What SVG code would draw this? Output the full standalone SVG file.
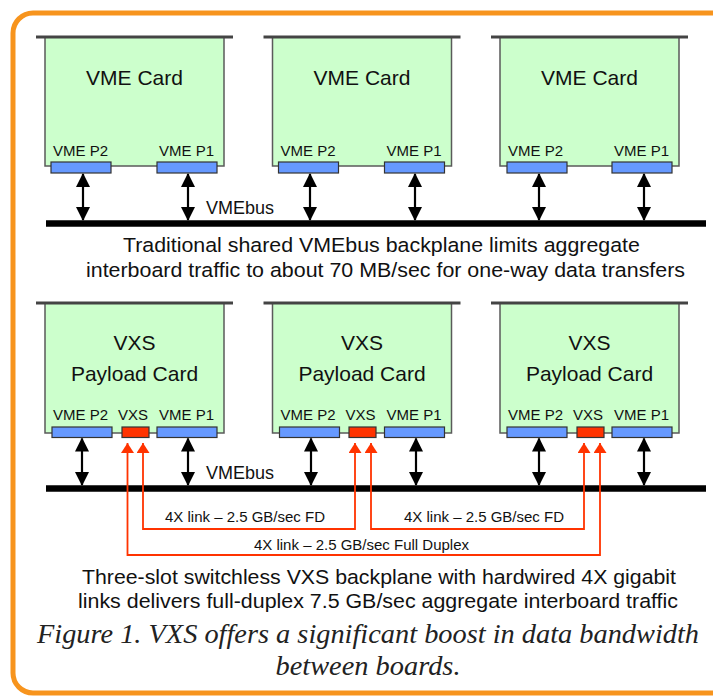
<svg xmlns="http://www.w3.org/2000/svg" width="713" height="696" viewBox="0 0 713 696">
<defs>
<style>
.card{fill:#CCFFCC;stroke:#5a5a5a;stroke-width:1.5}
.bar{stroke:#444;stroke-width:3}
.conn{fill:#6699FF;stroke:#333;stroke-width:1.2}
.vxs{fill:#FF3300;stroke:#333;stroke-width:1.2}
.t{font-family:"Liberation Sans",Arial,sans-serif;fill:#111}
.title{font-size:21px;text-anchor:middle}
.pl{font-size:15px}
.bl{font-size:18px}
.cap{font-size:20.5px;text-anchor:middle}
.lk{font-size:15px;text-anchor:middle}
.bus{stroke:#000;stroke-width:6.5}
.barr{stroke:#000;stroke-width:2.2;marker-start:url(#bh);marker-end:url(#bh)}
.redh{fill:none;stroke:#FF3300;stroke-width:1.8;marker-start:url(#rh);marker-end:url(#rh)}
.fig{font-family:"Liberation Serif","Times New Roman",serif;font-style:italic;font-size:27px;text-anchor:middle;fill:#222}
</style>
<marker id="bh" viewBox="0 0 14 14" refX="13" refY="7" markerWidth="14" markerHeight="14" markerUnits="userSpaceOnUse" orient="auto-start-reverse">
<path d="M0,0 L14,7 L0,14 Z" fill="#000"/>
</marker>
<marker id="rh" viewBox="0 0 10 13" refX="10" refY="6.5" markerWidth="10" markerHeight="13" markerUnits="userSpaceOnUse" orient="auto-start-reverse">
<path d="M0,0 L10,6.5 L0,13 Z" fill="#FF3300"/>
</marker>
</defs>
<rect x="13" y="13" width="730" height="680" rx="20" fill="#fff" stroke="#F7941D" stroke-width="5"/>

<g id="vme-card-1">
<rect class="card" x="45" y="37" width="179" height="129"/>
<line class="bar" x1="36" y1="37" x2="233" y2="37"/>
<text class="t title" x="134.5" y="85">VME Card</text>
<text class="t pl" x="53" y="156">VME P2</text>
<text class="t pl" x="159" y="156">VME P1</text>
<rect class="conn" x="51" y="162" width="60" height="11"/>
<rect class="conn" x="157" y="162" width="60" height="11"/>
</g>
<g id="vme-card-2">
<rect class="card" x="272.5" y="37" width="179" height="129"/>
<line class="bar" x1="263.5" y1="37" x2="460.5" y2="37"/>
<text class="t title" x="362" y="85">VME Card</text>
<text class="t pl" x="280.5" y="156">VME P2</text>
<text class="t pl" x="386.5" y="156">VME P1</text>
<rect class="conn" x="278.5" y="162" width="60" height="11"/>
<rect class="conn" x="384.5" y="162" width="60" height="11"/>
</g>
<g id="vme-card-3">
<rect class="card" x="500" y="37" width="179" height="129"/>
<line class="bar" x1="491" y1="37" x2="688" y2="37"/>
<text class="t title" x="589.5" y="85">VME Card</text>
<text class="t pl" x="508" y="156">VME P2</text>
<text class="t pl" x="614" y="156">VME P1</text>
<rect class="conn" x="507" y="162" width="60" height="11"/>
<rect class="conn" x="612" y="162" width="60" height="11"/>
</g>
<g id="vmebus-top">
<line class="bus" x1="46" y1="223.5" x2="706" y2="223.5"/>
<text class="t bl" x="206" y="214">VMEbus</text>
</g>
<g id="caption-top">
<text class="t cap" x="381.4" y="251.5" textLength="517" lengthAdjust="spacingAndGlyphs">Traditional shared VMEbus backplane limits aggregate</text>
<text class="t cap" x="385.5" y="276.5" textLength="599" lengthAdjust="spacingAndGlyphs">interboard traffic to about 70 MB/sec for one-way data transfers</text>
</g>

<g id="vxs-card-1">
<rect class="card" x="45" y="303" width="179" height="130"/>
<line class="bar" x1="36" y1="303" x2="233" y2="303"/>
<text class="t title" x="134.5" y="350">VXS</text>
<text class="t title" x="134.5" y="381">Payload Card</text>
<text class="t pl" x="53" y="420">VME P2</text>
<text class="t pl" x="118" y="420">VXS</text>
<text class="t pl" x="159" y="420">VME P1</text>
<rect class="conn" x="52" y="427" width="60" height="10.5"/>
<rect class="vxs" x="122" y="427" width="27" height="10.5"/>
<rect class="conn" x="157" y="427" width="60" height="10.5"/>
</g>
<g id="vxs-card-2">
<rect class="card" x="272.5" y="303" width="179" height="130"/>
<line class="bar" x1="263.5" y1="303" x2="460.5" y2="303"/>
<text class="t title" x="362" y="350">VXS</text>
<text class="t title" x="362" y="381">Payload Card</text>
<text class="t pl" x="280.5" y="420">VME P2</text>
<text class="t pl" x="345.5" y="420">VXS</text>
<text class="t pl" x="386.5" y="420">VME P1</text>
<rect class="conn" x="279.5" y="427" width="60" height="10.5"/>
<rect class="vxs" x="349" y="427" width="27" height="10.5"/>
<rect class="conn" x="384.5" y="427" width="60" height="10.5"/>
</g>
<g id="vxs-card-3">
<rect class="card" x="500" y="303" width="179" height="130"/>
<line class="bar" x1="491" y1="303" x2="688" y2="303"/>
<text class="t title" x="589.5" y="350">VXS</text>
<text class="t title" x="589.5" y="381">Payload Card</text>
<text class="t pl" x="508" y="420">VME P2</text>
<text class="t pl" x="573" y="420">VXS</text>
<text class="t pl" x="614" y="420">VME P1</text>
<rect class="conn" x="507" y="427" width="60" height="10.5"/>
<rect class="vxs" x="577" y="427" width="27" height="10.5"/>
<rect class="conn" x="612" y="427" width="60" height="10.5"/>
</g>
<g id="vmebus-bottom">
<line class="bus" x1="46" y1="488.5" x2="706" y2="488.5"/>
<text class="t bl" x="206" y="479">VMEbus</text>
</g>

<g id="connectors">
<line class="barr" x1="83" y1="174" x2="83" y2="220"/>
<line class="barr" x1="188" y1="174" x2="188" y2="220"/>
<line class="barr" x1="310" y1="174" x2="310" y2="220"/>
<line class="barr" x1="415" y1="174" x2="415" y2="220"/>
<line class="barr" x1="539" y1="174" x2="539" y2="220"/>
<line class="barr" x1="644" y1="174" x2="644" y2="220"/>

<line class="barr" x1="82" y1="438.5" x2="82" y2="485"/>
<line class="barr" x1="188" y1="438.5" x2="188" y2="485"/>
<line class="barr" x1="311" y1="438.5" x2="311" y2="485"/>
<line class="barr" x1="416" y1="438.5" x2="416" y2="485"/>
<line class="barr" x1="539" y1="438.5" x2="539" y2="485"/>
<line class="barr" x1="644" y1="438.5" x2="644" y2="485"/>

<polyline class="redh" points="127.5,443 127.5,555 600,555 600,443"/>
<polyline class="redh" points="143,443 143,529 355,529 355,443"/>
<polyline class="redh" points="371,443 371,529 584,529 584,443"/>
<text class="t lk" x="245" y="522">4X link – 2.5 GB/sec FD</text>
<text class="t lk" x="484" y="522">4X link – 2.5 GB/sec FD</text>
<text class="t lk" x="361.5" y="550">4X link – 2.5 GB/sec Full Duplex</text>
</g>

<g id="caption-bottom">
<text class="t cap" x="379" y="583.5" textLength="594" lengthAdjust="spacingAndGlyphs">Three-slot switchless VXS backplane with hardwired 4X gigabit</text>
<text class="t cap" x="378" y="607.5" textLength="600" lengthAdjust="spacingAndGlyphs">links delivers full-duplex 7.5 GB/sec aggregate interboard traffic</text>
</g>
<g id="figure-caption">
<text class="fig" x="368" y="643" textLength="662" lengthAdjust="spacingAndGlyphs">Figure 1. VXS offers a significant boost in data bandwidth</text>
<text class="fig" x="368" y="675" textLength="185" lengthAdjust="spacingAndGlyphs">between boards.</text>
</g>
</svg>
